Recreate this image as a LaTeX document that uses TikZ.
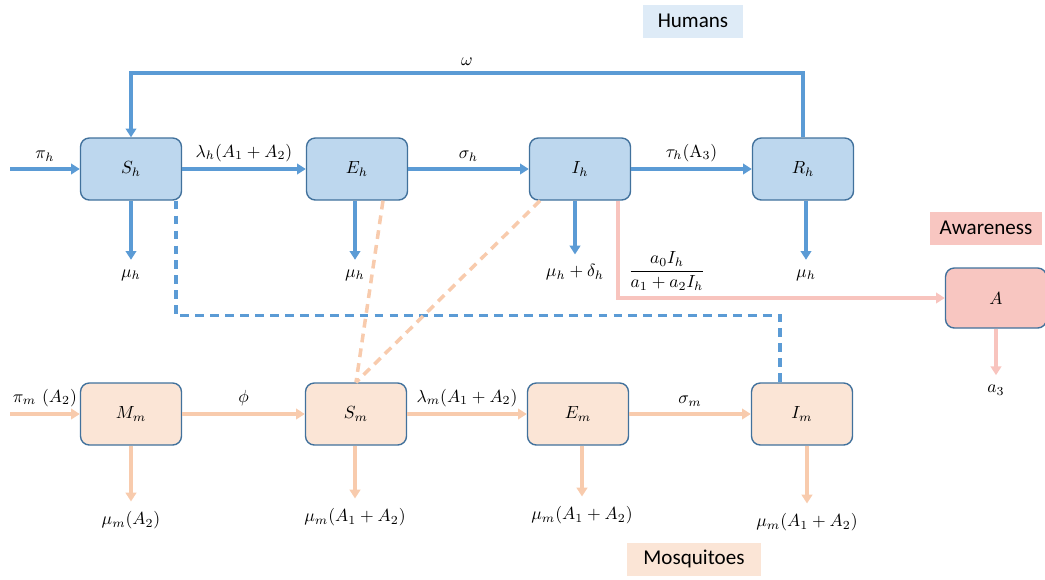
\documentclass[tikz,border=0pt]{standalone}
\usepackage{amsmath}
\usepackage{fontspec}
\setsansfont{Carlito}
\usetikzlibrary{arrows.meta,positioning}
\definecolor{hblue}{HTML}{5B9BD5}
\definecolor{hfill}{HTML}{BDD7EE}
\definecolor{bord}{HTML}{41719C}
\definecolor{mfill}{HTML}{FBE5D6}
\definecolor{morange}{HTML}{F8CBAD}
\definecolor{apink}{HTML}{F8C4BE}
\definecolor{afill}{HTML}{F8C6C1}
\definecolor{hlabel}{HTML}{DEEBF7}
\begin{document}
\begin{tikzpicture}[x=0.02cm,y=-0.02cm,
    box/.style={rectangle,rounded corners=5pt,draw=bord,line width=0.8pt,
      minimum width=2.02cm,minimum height=1.24cm},
    harr/.style={draw=hblue,line width=2pt,-{Triangle[length=5pt,width=6pt]}},
    marr/.style={draw=morange,line width=2pt,-{Triangle[length=5pt,width=6pt]}},
    parr/.style={draw=apink,line width=2pt,-{Triangle[length=5pt,width=6pt]}},
    tag/.style={font=\sffamily\large,minimum height=0.66cm}]

      \useasboundingbox (0,0) rectangle (1045,579);

      % compartments
      \begin{scope}[every node/.style={box,fill=hfill}]
        \node (Sh) at (131,169) {$S_h$};
        \node (Eh) at (357,169) {$E_h$};
        \node (Ih) at (580,169) {$I_h$};
        \node (Rh) at (803,169) {$R_h$};
      \end{scope}

      \begin{scope}[every node/.style={box,fill=mfill}]
        \node (Mm) at (131,414) {$M_m$};
        \node (Sm) at (356,414) {$S_m$};
        \node (Em) at (578,414) {$E_m$};
        \node (Im) at (802,414) {$I_m$};
      \end{scope}

      \node[box,fill=afill,minimum height=1.2cm] (A) at (996,298) {$A$};

      % group tags
      \node[tag,fill=hlabel,minimum width=2cm] (humans) at (693,21) {Humans};
      \node[tag,fill=afill,minimum width=2.24cm] (aware) at (986,228) {Awareness};
      \node[tag,fill=mfill,minimum width=2.7cm] (mosq) at (694,559) {Mosquitoes};

      % outflow labels
      \node (muSh) at (131,275) {$\mu_h$};
      \node (muEh) at (355,275) {$\mu_h$};
      \node (muIh) at (575,272) {$\mu_h+\delta_h$};
      \node (muRh) at (806,275) {$\mu_h$};
      \node (muMm) at (131,520) {$\mu_m(A_2)$};
      \node (muSm) at (355,517) {$\mu_m(A_1+A_2)$};
      \node (muEm) at (582,515) {$\mu_m(A_1+A_2)$};
      \node (muIm) at (807,522) {$\mu_m(A_1+A_2)$};
      \node (aA) at (996,390) {$a_3$};

      \coordinate (inH) at (10,169);
      \coordinate (inM) at (10,414);

      \begin{scope}[every edge/.style={harr}]
        \path (inH) edge node[above] (lpih) {$\pi_h$} (Sh);
        \path (Sh) edge node[above] (lSE) {$\lambda_h(A_1+A_2)$} (Eh);
        \path (Eh) edge node[above] (lEI) {$\sigma_h$} (Ih);
        \path (Ih) edge node[above] (lIR) {$\tau_h(\mathrm{A}_3)$} (Rh);
      \end{scope}

      \begin{scope}[every edge/.style={marr}]
        \path (inM) edge node[above] (lpim) {$\pi_m\ (A_2)$} (Mm);
        \path (Mm) edge node[above] (lMS) {$\phi$} (Sm);
        \path (Sm) edge node[above] (lSEm) {$\lambda_m(A_1+A_2)$} (Em);
        \path (Em) edge node[above] (lEIm) {$\sigma_m$} (Im);
      \end{scope}

      % deaths
      \begin{scope}[shorten >=2pt]
        \draw[harr] (muSh |- Sh.south) -- (muSh.north);
        \draw[harr] (muEh |- Eh.south) -- (muEh.north);
        \draw[harr] (muIh |- Ih.south) -- (muIh.north);
        \draw[harr] (muRh |- Rh.south) -- (muRh.north);
        \draw[marr] (muMm |- Mm.south) -- (muMm.north);
        \draw[marr] (muSm |- Sm.south) -- (muSm.north);
        \draw[marr] (muEm |- Em.south) -- (muEm.north);
        \draw[marr] (muIm |- Im.south) -- (muIm.north);
        \draw[parr] (A.south) -- (aA.north);
      \end{scope}

      % loss of immunity
      \draw[harr] (Rh.north) |- (Sh.north |- 0,73)
        node[pos=0.75,above] (lom) {$\omega$} -- (Sh.north);

      % awareness
      \draw[parr] ([xshift=0.76cm]Ih.south) |- (A.west)
        node[pos=0.575,above] (lA) {$\dfrac{a_0I_h}{a_1+a_2I_h}$};

      % transmission
      \draw[hblue,line width=2pt,dash pattern=on 5pt off 3.5pt]
        ([xshift=0.9cm]Sh.south) -- ++(0,115) -| ([xshift=-0.44cm]Im.north);
      \draw[morange,line width=2pt,dash pattern=on 5pt off 3.5pt]
        ([xshift=0.52cm]Eh.south) -- (Sm.north);
      \draw[morange,line width=2pt,dash pattern=on 5pt off 3.5pt]
        ([xshift=-0.8cm]Ih.south) -- (Sm.north);

    \end{tikzpicture}
\end{document}
